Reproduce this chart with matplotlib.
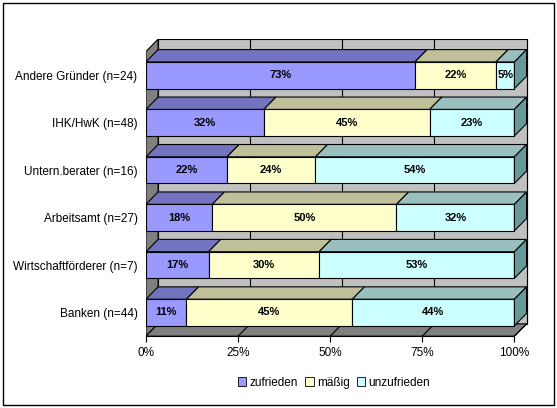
import matplotlib
matplotlib.use("Agg")
import matplotlib.pyplot as plt
from matplotlib.patches import Polygon, Rectangle

plt.rcParams['font.family'] = ['Liberation Sans', 'DejaVu Sans']

categories = ["Banken (n=44)", "Wirtschaftförderer (n=7)", "Arbeitsamt (n=27)",
              "Untern.berater (n=16)", "IHK/HwK (n=48)", "Andere Gründer (n=24)"]
zufrieden = [11, 17, 18, 22, 32, 73]
maessig = [45, 30, 50, 24, 45, 22]
unzufrieden = [44, 53, 32, 54, 23, 5]
series_names = ["zufrieden", "mäßig", "unzufrieden"]
xticks = [0, 25, 50, 75, 100]
xticklabels = ["0%", "25%", "50%", "75%", "100%"]

face = ["#9999FF", "#FFFFCC", "#CCFFFF"]
top = ["#7373BF", "#BFBF99", "#99BFBF"]
side = ["#5C5C99", "#99997A", "#669999"]

fig = plt.figure(figsize=(5.57, 4.08), dpi=100)
fig.patches.append(Rectangle((0.006, 0.008), 0.988, 0.985, transform=fig.transFigure,
                             fill=False, edgecolor="black", lw=1))
ax = fig.add_axes([0.262, 0.176, 0.688, 0.728])
dx, dy = 3.3, 0.26
h = 0.56
n = len(categories)
ax.set_xlim(0, 104)
ax.set_ylim(-0.5, n - 0.5 + dy)

# walls
ax.add_patch(Polygon([(dx, -0.5 + dy), (100 + dx, -0.5 + dy), (100 + dx, n - 0.5 + dy), (dx, n - 0.5 + dy)],
                     closed=True, fc="#C0C0C0", ec="black", lw=0.8, zorder=0))
ax.add_patch(Polygon([(0, -0.5), (dx, -0.5 + dy), (dx, n - 0.5 + dy), (0, n - 0.5)],
                     closed=True, fc="#808080", ec="black", lw=0.8, zorder=0))
ax.add_patch(Polygon([(0, -0.5), (100, -0.5), (100 + dx, -0.5 + dy), (dx, -0.5 + dy)],
                     closed=True, fc="#808080", ec="black", lw=0.8, zorder=0))
for t in xticks[1:]:
    ax.plot([t + dx, t + dx], [-0.5 + dy, n - 0.5 + dy], color="black", lw=0.8, zorder=0.5)
    ax.plot([t, t + dx], [-0.5, -0.5 + dy], color="black", lw=0.8, zorder=0.5)

data = [zufrieden, maessig, unzufrieden]
for i in range(n):
    left = 0
    for s in range(3):
        v = data[s][i]
        y0, y1 = i - h / 2, i + h / 2
        ax.barh(i, v, left=left, height=h, color=face[s], edgecolor="black", lw=0.8, zorder=2)
        ax.add_patch(Polygon([(left, y1), (left + v, y1), (left + v + dx, y1 + dy), (left + dx, y1 + dy)],
                             closed=True, fc=top[s], ec="black", lw=0.8, zorder=2))
        ax.text(left + v / 2, i, f"{v}%", ha="center", va="center", fontsize=8,
                fontweight="bold", zorder=3)
        left += v
    ax.add_patch(Polygon([(left, i - h / 2), (left + dx, i - h / 2 + dy), (left + dx, i + h / 2 + dy), (left, i + h / 2)],
                         closed=True, fc=side[2], ec="black", lw=0.8, zorder=2))

ax.set_yticks(range(n))
ax.set_yticklabels(categories, fontsize=8.5)
ax.set_xticks(xticks)
ax.set_xticklabels(xticklabels, fontsize=8.5)
for sp in ax.spines.values():
    sp.set_visible(False)
ax.tick_params(axis="y", length=0, pad=6)
ax.tick_params(axis="x", length=4, direction="out")
ax.plot([0, 100], [-0.5, -0.5], color="black", lw=0.8, clip_on=False, zorder=1)

handles = [Rectangle((0, 0), 1, 1, fc=face[s], ec="black", lw=0.6) for s in range(3)]
fig.legend(handles, series_names, loc="center", bbox_to_anchor=(0.6, 0.062), ncol=3,
           frameon=False, fontsize=8.5, handlelength=0.7, handleheight=0.7,
           handletextpad=0.3, columnspacing=0.6)
fig.savefig("out.png", dpi=100)
